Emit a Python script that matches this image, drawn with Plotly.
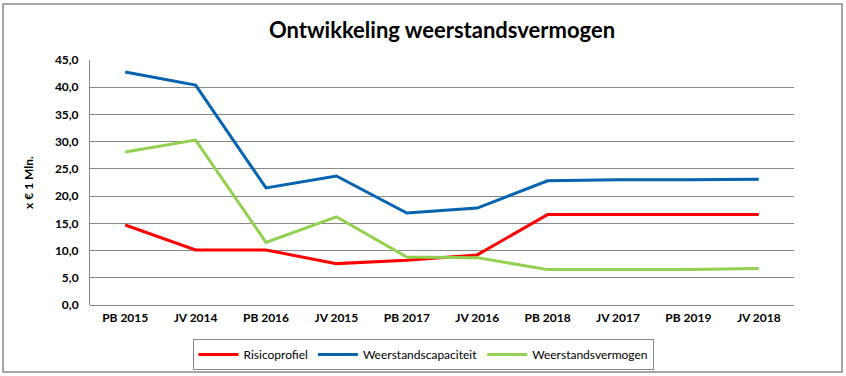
import plotly.graph_objects as go

categories = ["PB 2015", "JV 2014", "PB 2016", "JV 2015", "PB 2017",
              "JV 2016", "PB 2018", "JV 2017", "PB 2019", "JV 2018"]
risicoprofiel = [14.7, 10.1, 10.1, 7.6, 8.2, 9.2, 16.6, 16.6, 16.6, 16.6]
weerstandscapaciteit = [42.8, 40.4, 21.5, 23.7, 16.9, 17.8, 22.8, 23.0, 23.0, 23.1]
weerstandsvermogen = [28.1, 30.3, 11.5, 16.2, 8.8, 8.7, 6.5, 6.5, 6.5, 6.7]

series = [
    ("Risicoprofiel", risicoprofiel, "#FF0000"),
    ("Weerstandscapaciteit", weerstandscapaciteit, "#0563B0"),
    ("Weerstandsvermogen", weerstandsvermogen, "#92D050"),
]

FONT = "Lato, Open Sans, sans-serif"

fig = go.Figure()
for name, vals, color in series:
    fig.add_trace(go.Scatter(x=categories, y=vals, name=name, mode="lines",
                             line=dict(color=color, width=3)))

fig.update_layout(
    width=846, height=376,
    margin=dict(l=90, r=52, t=60, b=71, autoexpand=False),
    paper_bgcolor="white", plot_bgcolor="white",
    title=dict(text="<b>Ontwikkeling weerstandsvermogen</b>",
               font=dict(family=FONT, size=22, color="black"),
               x=0.5, xanchor="center", xref="paper", y=1 - 30 / 376, yanchor="middle"),
    font=dict(family=FONT, color="black"),
    showlegend=True,
    legend=dict(orientation="h", xref="container", yref="container",
                x=0.5, xanchor="center", y=1 - 339 / 376, yanchor="top",
                bordercolor="#888888", borderwidth=1,
                font=dict(family=FONT, size=12, color="black"),
                itemwidth=40, tracegroupgap=0),
    xaxis=dict(showgrid=False, showline=False, ticks="", range=[-0.5, 9.5],
               tickfont=dict(family=FONT, size=12, color="black"),
               tickprefix="<b>", ticksuffix="</b>", ticklabelstandoff=4),
    yaxis=dict(range=[0, 45], dtick=5, tickformat=".1f",
               showgrid=True, gridcolor="#888888", gridwidth=1,
               showline=True, linecolor="#888888", linewidth=1,
               zeroline=True, zerolinecolor="#888888", zerolinewidth=1,
               ticks="", tickfont=dict(family=FONT, size=12, color="black"),
               tickprefix="<b>", ticksuffix="</b>", ticklabelstandoff=8,
               title=dict(text="<b>x € 1 Mln.</b>", font=dict(family=FONT, size=12, color="black"),
                          standoff=18)),
    separators=",.",
    shapes=[dict(type="rect", xref="paper", yref="paper",
                 x0=(3 - 90) / 704, x1=(842 - 90) / 704,
                 y0=(305 - 372) / 245, y1=(305 - 4) / 245,
                 line=dict(color="#888888", width=1.5), layer="below")],
)

fig.write_html("out.html", config={"displayModeBar": False},
               post_script="document.body.style.margin='0';document.body.style.overflow='hidden';")
